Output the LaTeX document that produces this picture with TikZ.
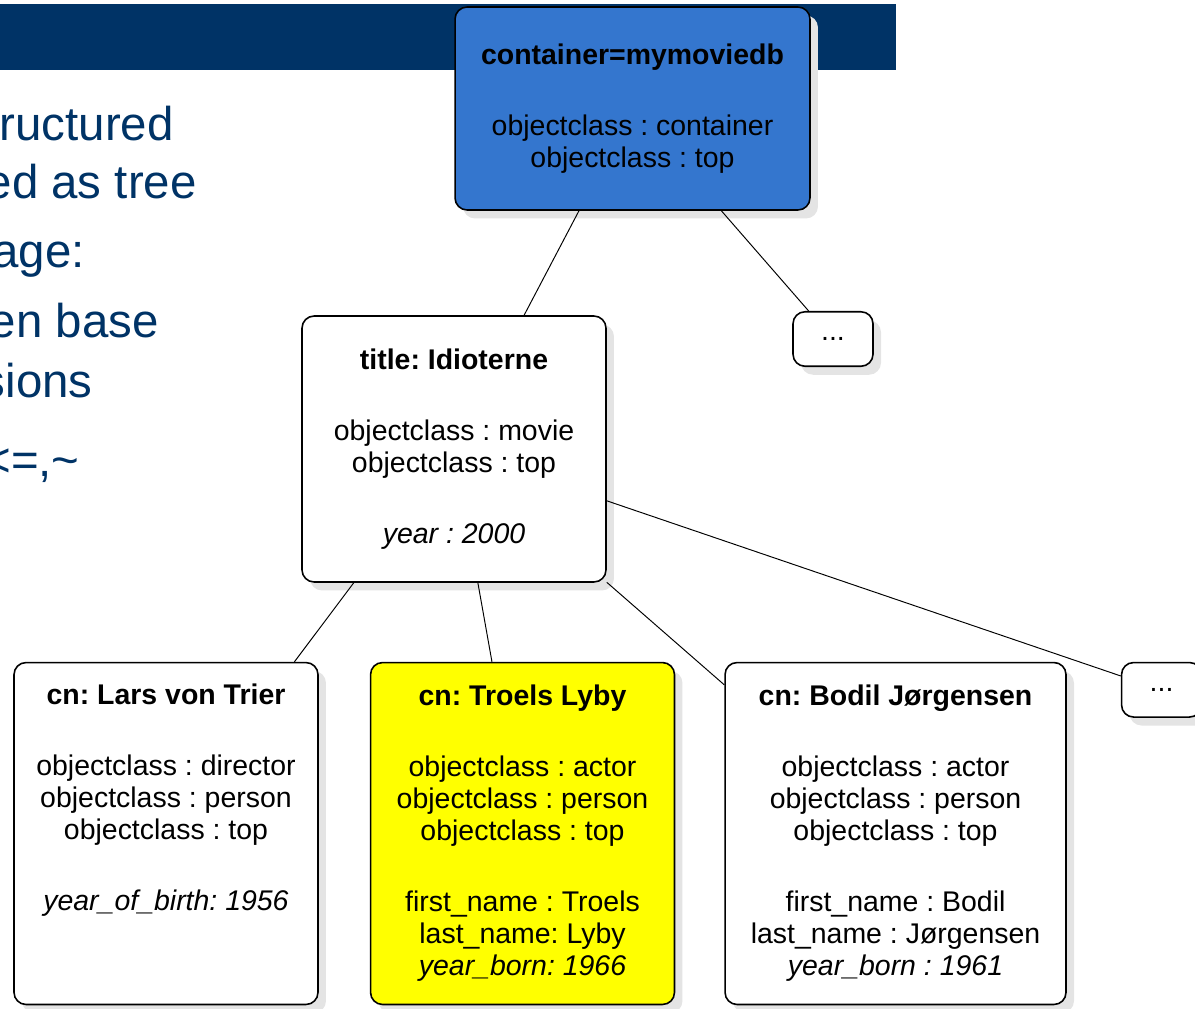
\documentclass[tikz,border=0pt]{standalone}
\usepackage{fontspec}
\setmainfont{Liberation Sans}
\usepackage{tikz}
\usetikzlibrary{positioning, shadows}
\definecolor{slidenavy}{RGB}{0,51,102}
\definecolor{rootblue}{RGB}{52,118,206}
\definecolor{hlyellow}{RGB}{255,255,0}
\definecolor{shadowgray}{RGB}{228,228,228}
\frenchspacing

\begin{document}
\begin{tikzpicture}[
  x=0.02cm, y=-0.02cm,
  entry/.style={rectangle, draw=black, line width=0.9pt, fill=white, rounded corners=0.24cm,
    align=center, inner sep=0pt, font=\fontsize{16.2}{18.2}\selectfont,
    drop shadow={shadow xshift=0.16cm, shadow yshift=-0.17cm, fill=shadowgray, opacity=1}},
  rootentry/.style={entry, fill=rootblue, minimum width=7.1cm, minimum height=4.06cm},
  personentry/.style={entry, minimum width=6.08cm, minimum height=6.84cm},
  dotsentry/.style={entry, minimum width=1.6cm, minimum height=1.09cm},
  slidetext/.style={anchor=base east, inner sep=0pt, text=slidenavy, font=\fontsize{27}{32}\selectfont},
  link/.style={draw=black, line width=0.55pt}
]
\useasboundingbox (0,0) rectangle (1195,1008);

% Slide banner and cut-off bullet text
\fill[slidenavy] (0,4) rectangle (896,70);
\node[slidetext] (frag1) at (174,140) {ructured};
\node[slidetext] (frag2) at (197,198) {ed as tree};
\node[slidetext] (frag3) at (85,267) {age:};
\node[slidetext] (frag4) at (159,337) {en base};
\node[slidetext] (frag5) at (93,397) {sions};
\node[slidetext] (frag6) at (80,476) {<=,\textasciitilde};

% Container entry
\node[rootentry] (root) at (632.5,108.5) {
  \textbf{container=mymoviedb}\\[0.78cm]
  objectclass : container\\
  objectclass : top
};

% Movie entry
\node[entry, minimum width=6.08cm, minimum height=5.32cm] (movie) at (454,449) {
  \textbf{title: Idioterne}\\[0.78cm]
  objectclass : movie\\
  objectclass : top\\[0.78cm]
  \textit{year : 2000}
};

\node[dotsentry] (more1) at (833,339) {...};

% Person entries
\node[personentry] (lars) at (166,833.5) {
  \textbf{cn: Lars von Trier}\\[0.78cm]
  objectclass : director\\
  objectclass : person\\
  objectclass : top\\[0.78cm]
  \textit{year\_of\_birth: 1956}\\
  \strut\\
  \strut
};

\node[personentry, fill=hlyellow, right=1.02cm of lars] (troels) {
  \textbf{cn: Troels Lyby}\\[0.78cm]
  objectclass : actor\\
  objectclass : person\\
  objectclass : top\\[0.78cm]
  first\_name : Troels\\
  last\_name: Lyby\\
  \textit{year\_born: 1966}
};

\node[personentry, minimum width=6.82cm, right=0.98cm of troels] (bodil) {
  \textbf{cn: Bodil Jørgensen}\\[0.78cm]
  objectclass : actor\\
  objectclass : person\\
  objectclass : top\\[0.78cm]
  first\_name : Bodil\\
  last\_name : Jørgensen\\
  \textit{year\_born : 1961}
};

\node[dotsentry, right=1.08cm of bodil.north east, anchor=north west] (more2) {...};

\draw[link] (root) -- (movie);
\draw[link] (root) -- (more1);
\draw[link] (movie) -- (lars);
\draw[link] (movie) -- (troels);
\draw[link] (movie) -- (bodil);
\draw[link] (movie) -- (more2);

\end{tikzpicture}
\end{document}
